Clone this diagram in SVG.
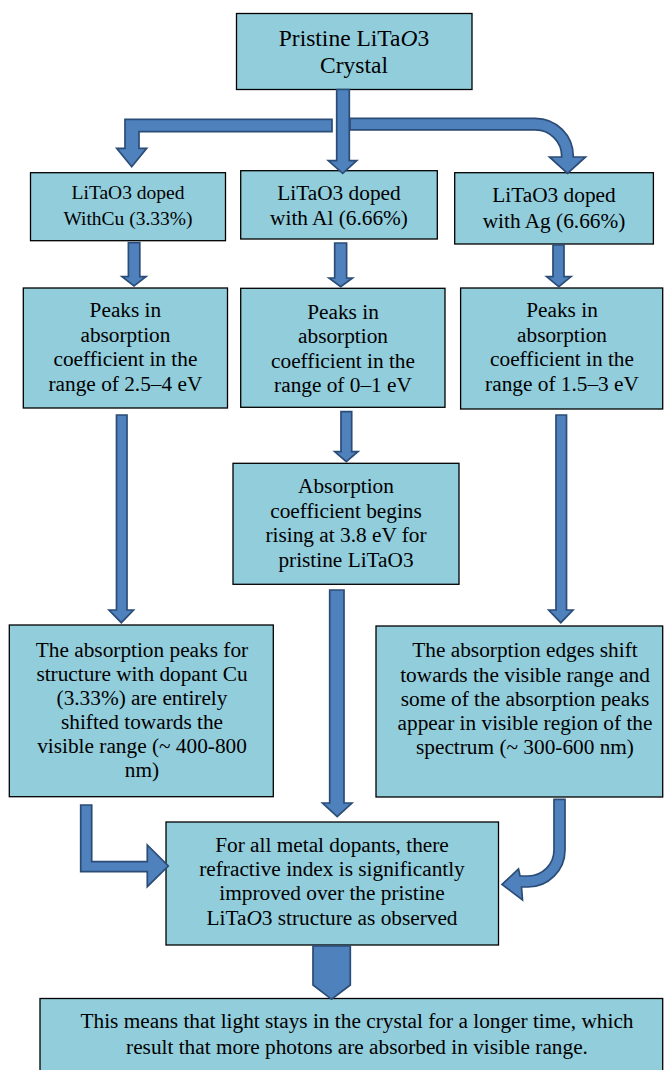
<svg xmlns="http://www.w3.org/2000/svg" width="664" height="1070" viewBox="0 0 664 1070">
<style>
.box{fill:#92CDDC;stroke:#000;stroke-width:1.3}
.t{font-family:"Liberation Serif","Times New Roman",serif;font-size:21.3px;fill:#000;text-anchor:middle}
.big{font-size:23.5px}
.sm{font-size:19.5px}
.arr{fill:#4F81BD;stroke:#2B4C77;stroke-width:1.7;stroke-linejoin:miter}
.i{font-style:italic}
</style>
<rect width="664" height="1070" fill="#fff"/>
<g id="n-top">
<rect class="box" x="236.5" y="13.5" width="235.5" height="76"/>
<text class="t big" x="354" y="46">Pristine LiTa<tspan class="i">O</tspan>3</text>
<text class="t big" x="354" y="73">Crystal</text>
</g>
<g id="n-cu">
<rect class="box" x="30.5" y="172.7" width="195" height="68"/>
<text class="t sm" x="128" y="199.3">LiTaO3 doped</text>
<text class="t sm" x="128" y="225">WithCu (3.33%)</text>
</g>
<g id="n-al">
<rect class="box" x="240.7" y="170.7" width="196.6" height="68.3"/>
<text class="t" x="339" y="199.5">LiTaO3 doped</text>
<text class="t" x="339" y="224.5">with Al (6.66%)</text>
</g>
<g id="n-ag">
<rect class="box" x="454.7" y="172.7" width="198.7" height="71.3"/>
<text class="t" x="554" y="201.5">LiTaO3 doped</text>
<text class="t" x="554" y="227.5">with Ag (6.66%)</text>
</g>
<g id="n-peaks-cu">
<rect class="box" x="23.3" y="288" width="204.2" height="120"/>
<text class="t" x="125.4" y="317">Peaks in</text>
<text class="t" x="125.4" y="341.5">absorption</text>
<text class="t" x="125.4" y="366">coefficient in the</text>
<text class="t" x="125.4" y="390.5">range of 2.5–4 eV</text>
</g>
<g id="n-peaks-al">
<rect class="box" x="240.7" y="288.3" width="204.3" height="119"/>
<text class="t" x="343" y="318.5">Peaks in</text>
<text class="t" x="343" y="343">absorption</text>
<text class="t" x="343" y="367.5">coefficient in the</text>
<text class="t" x="343" y="392">range of 0–1 eV</text>
</g>
<g id="n-peaks-ag">
<rect class="box" x="460.6" y="288" width="202.1" height="121"/>
<text class="t" x="562" y="317">Peaks in</text>
<text class="t" x="562" y="341.5">absorption</text>
<text class="t" x="562" y="366">coefficient in the</text>
<text class="t" x="562" y="390.5">range of 1.5–3 eV</text>
</g>
<g id="n-abs">
<rect class="box" x="233" y="463.3" width="226" height="121"/>
<text class="t" x="346" y="493">Absorption</text>
<text class="t" x="346" y="517.5">coefficient begins</text>
<text class="t" x="346" y="542">rising at 3.8 eV for</text>
<text class="t" x="346" y="566.5">pristine LiTaO3</text>
</g>
<g id="n-cu-shift">
<rect class="box" x="9.3" y="625" width="264" height="171.7"/>
<text class="t" x="142" y="657">The absorption peaks for</text>
<text class="t" x="142" y="681">structure with dopant Cu</text>
<text class="t" x="142" y="705">(3.33%) are entirely</text>
<text class="t" x="142" y="729">shifted towards the</text>
<text class="t" x="142" y="753">visible range (~ 400-800</text>
<text class="t" x="142" y="777">nm)</text>
</g>
<g id="n-ag-shift">
<rect class="box" x="376" y="626" width="286.7" height="171"/>
<text class="t" x="525" y="657">The absorption edges shift</text>
<text class="t" x="525" y="681.5">towards the visible range and</text>
<text class="t" x="525" y="706">some of the absorption peaks</text>
<text class="t" x="525" y="730">appear in visible region of the</text>
<text class="t" x="525" y="754">spectrum (~ 300-600 nm)</text>
</g>
<g id="n-refr">
<rect class="box" x="166" y="822" width="332.5" height="123"/>
<text class="t" x="332" y="851.7">For all metal dopants, there</text>
<text class="t" x="332" y="876">refractive index is significantly</text>
<text class="t" x="332" y="900">improved over the pristine</text>
<text class="t" x="332" y="925">LiTa<tspan class="i">O</tspan>3 structure as observed</text>
</g>
<g id="n-final">
<rect class="box" x="40" y="998.5" width="622.7" height="80"/>
<text class="t" x="357" y="1028.3">This means that light stays in the crystal for a longer time, which</text>
<text class="t" x="357" y="1054">result that more photons are absorbed in visible range.</text>
</g>
<g id="connectors">
<path class="arr" d="M336.7 89.5H349.3V160.7H356.7L342.7 173.3L328.3 160.7H336.7Z"/>
<path class="arr" d="M332 119.3H125V148.3H116.7L131.7 166.7L146.7 148.3H139V131.7H332Z"/>
<path class="arr" d="M350 118.3H535.3A38 38 0 0 1 573.3 156.3V157H585.5L567.5 173.3L549.5 157H561.7V156.3A26.4 26.4 0 0 0 535.3 129.9H350Z"/>
<path class="arr" d="M128.4 242.7H139.8V276.7H146L134 286L122 276.7H128.4Z"/>
<path class="arr" d="M334.7 243H346.6V278H352.5L340.7 286.7L329 278H334.7Z"/>
<path class="arr" d="M553 245H564V276.7H571L558.8 286.7L546.6 276.7H553Z"/>
<path class="arr" d="M116.5 415H127V610H133.5L121.3 622.7L109 610H116.5Z"/>
<path class="arr" d="M341 411.7H351.7V451.7H358L346.3 461.7L334.7 451.7H341Z"/>
<path class="arr" d="M556 415H566.5V610H573L560.8 622.7L548.7 610H556Z"/>
<path class="arr" d="M329.7 590H344V803H352L337.2 816.7L322.5 803H329.7Z"/>
<path class="arr" d="M80.7 805H91.7V861.7H147.3V845L168.3 866L147.3 886.7V871.7H80.7Z"/>
<path class="arr" d="M554 799.3H565V850A37 37 0 0 1 528 887H521.5L522.5 900L502 884.5L518.5 869L520 876H528A26 26 0 0 0 554 850Z"/>
<path class="arr" d="M313 946H350.3V985L331.6 999.3L313 985Z"/>
</g>
</svg>
